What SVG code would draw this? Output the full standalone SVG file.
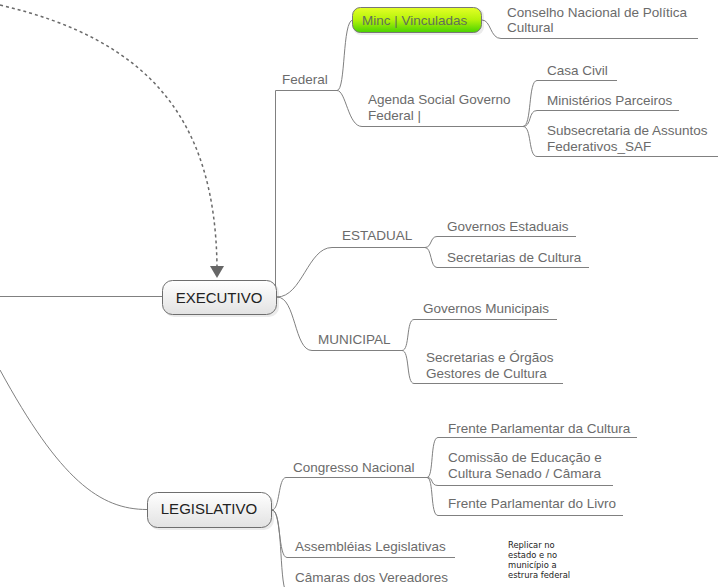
<svg xmlns="http://www.w3.org/2000/svg" width="719" height="587" viewBox="0 0 719 587">
<defs>
<style>
.c{fill:none;stroke:#808080;stroke-width:1}
.t{font-family:"Liberation Sans",Arial,sans-serif;font-size:13.5px;fill:#6b6b6b}
.n{font-family:"Liberation Sans",Arial,sans-serif;font-size:15px;fill:#222;text-anchor:middle}
.box{fill:url(#gGray);stroke:#6e6e6e;stroke-width:1}
.sh{fill:#000;opacity:0.08}
.note{font-family:"DejaVu Sans Condensed","DejaVu Sans",sans-serif;font-size:9.3px;fill:#222}
</style>
<linearGradient id="gGray" x1="0" y1="0" x2="0" y2="1">
<stop offset="0" stop-color="#ffffff"/>
<stop offset="1" stop-color="#e2e2e2"/>
</linearGradient>
<linearGradient id="gGreen" x1="0" y1="0" x2="0" y2="1">
<stop offset="0" stop-color="#e4ff26"/>
<stop offset="0.5" stop-color="#b4f20a"/>
<stop offset="1" stop-color="#48d200"/>
</linearGradient>
</defs>

<g id="connectors">
<path d="M0,5 C150,40 215,120 217,266" fill="none" stroke="#6a6a6a" stroke-width="1.5" stroke-dasharray="3,3"/>
<polygon points="210,266 224,266 217,278" fill="#666"/>
<path class="c" d="M0,296.5 H163"/>
<path class="c" d="M275.5,296 V90.5 H337"/>
<path class="c" d="M337,90.5 C346,90.5 342,20 353,20"/>
<path class="c" d="M337,90.5 C346,90.5 348,126.5 362,126.5 H523"/>
<path class="c" d="M482,20 C491,20 490,38.5 501,38.5 H698"/>
<path class="c" d="M523,126.5 C532,126.5 528,80.5 537,80.5 H617"/>
<path class="c" d="M523,126.5 C532,126.5 528,110.5 537,110.5 H679"/>
<path class="c" d="M523,126.5 C532,126.5 528,156.5 537,156.5 H718"/>
<path class="c" d="M277,297 C302,297 308,247.5 332,247.5 H425"/>
<path class="c" d="M425,247.5 C432,247.5 430,236.5 437,236.5 H576"/>
<path class="c" d="M425,247.5 C432,247.5 430,267.5 437,267.5 H589"/>
<path class="c" d="M277,297 C296,297 294,350.5 312,350.5 H402"/>
<path class="c" d="M402,350.5 C410,350.5 406,319.5 414,319.5 H557"/>
<path class="c" d="M402,350.5 C410,350.5 406,383.5 414,383.5 H563"/>
<path class="c" d="M0,370 C60,480 100,509.5 147,509.5"/>
<path class="c" d="M272,510 C280,510 278,477.5 286,477.5 H427"/>
<path class="c" d="M272,510 C281,510 278,557.5 287,557.5 H455"/>
<path class="c" d="M272,510 C283,510 279,580 286,592"/>
<path class="c" d="M427,477.5 C434,477.5 430,437.5 438,437.5 H637"/>
<path class="c" d="M427,477.5 C434,477.5 430,485.5 438,485.5 H613"/>
<path class="c" d="M427,477.5 C434,477.5 430,515.5 438,515.5 H623"/>
</g>

<g id="executivo">
<rect class="sh" x="164" y="282" width="115" height="35" rx="10"/>
<rect class="box" x="162.5" y="280.5" width="114" height="34" rx="10"/>
<text class="n" x="219" y="302.5">EXECUTIVO</text>
</g>
<g id="federal"><text class="t" x="282" y="84">Federal</text></g>
<g id="minc">
<rect class="sh" x="353" y="8" width="131" height="27" rx="8"/>
<rect x="352.5" y="7.5" width="129" height="25" rx="8" fill="url(#gGreen)" stroke="#777" stroke-width="1"/>
<text class="t" x="362" y="25" style="fill:#62705a">Minc | Vinculadas</text>
</g>
<g id="conselho"><text class="t" x="507" y="17">Conselho Nacional de Política</text><text class="t" x="507" y="32">Cultural</text></g>
<g id="agenda"><text class="t" x="368" y="104">Agenda Social Governo</text><text class="t" x="368" y="120">Federal |</text></g>
<g id="casacivil"><text class="t" x="547" y="75">Casa Civil</text></g>
<g id="ministerios"><text class="t" x="547" y="105">Ministérios Parceiros</text></g>
<g id="subsecretaria"><text class="t" x="547" y="135">Subsecretaria de Assuntos</text><text class="t" x="547" y="151">Federativos_SAF</text></g>
<g id="estadual"><text class="t" x="342" y="240">ESTADUAL</text></g>
<g id="govestaduais"><text class="t" x="447" y="231">Governos Estaduais</text></g>
<g id="seccultura"><text class="t" x="447" y="262">Secretarias de Cultura</text></g>
<g id="municipal"><text class="t" x="318" y="344">MUNICIPAL</text></g>
<g id="govmunicipais"><text class="t" x="423" y="313">Governos Municipais</text></g>
<g id="secorgaos"><text class="t" x="426" y="362">Secretarias e Órgãos</text><text class="t" x="426" y="378">Gestores de Cultura</text></g>

<g id="legislativo">
<rect class="sh" x="149" y="494" width="125" height="36" rx="10"/>
<rect class="box" x="147.5" y="492.5" width="124" height="35" rx="10"/>
<text class="n" x="209" y="514">LEGISLATIVO</text>
</g>
<g id="congresso"><text class="t" x="293" y="472">Congresso Nacional</text></g>
<g id="frentecultura"><text class="t" x="448" y="433">Frente Parlamentar da Cultura</text></g>
<g id="comissao"><text class="t" x="448" y="462">Comissão de Educação e</text><text class="t" x="448" y="478">Cultura Senado / Câmara</text></g>
<g id="frentelivro"><text class="t" x="448" y="508">Frente Parlamentar do Livro</text></g>
<g id="assembleias"><text class="t" x="295" y="551">Assembléias Legislativas</text></g>
<g id="camaras"><text class="t" x="295" y="582">Câmaras dos Vereadores</text></g>
<g id="nota">
<text class="note" x="508" y="548">Replicar no</text>
<text class="note" x="508" y="558">estado e no</text>
<text class="note" x="508" y="568">município a</text>
<text class="note" x="508" y="578">estrura federal</text>
</g>
</svg>
